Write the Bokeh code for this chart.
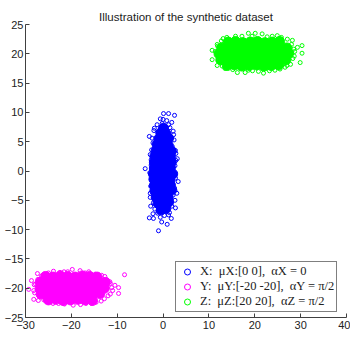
from bokeh.plotting import figure
from bokeh.models import Legend, LegendItem, Title
from bokeh.embed import file_html
from bokeh.resources import INLINE

# ---- data ----
# cluster X (blue), dense core
x_core_x = [-0.4, 0.6, -1.1, 0.2, 1.2, -1.5, -0.1, 1.1, -1.8, -0.5, 0.8, 1.8, -1.9, -0.6, 0.5, 1.6,
            -2.0, -0.8, 0.4, 1.5, -2.1, -1.0, 0.1, 1.2, 2.1, -1.9, -0.6, 0.5, 1.6, -1.9, -0.5, 0.6, 1.8,
            -1.8, -0.5, 0.6, 1.6, -1.5, -0.3, 0.9, 1.8, -1.3, 0.0, 1.1, -0.9, 0.2, 1.2, -0.5, 0.6, 0.1]
x_core_y = [-6.6, -6.4, -5.5, -5.6, -5.3, -4.5, -4.4, -4.6, -3.4, -3.6, -3.5, -3.3, -2.5, -2.3, -2.6, -2.4,
            -1.4, -1.5, -1.3, -1.6, -0.5, -0.4, -0.6, -0.3, -0.5, 0.5, 0.6, 0.4, 0.6, 1.5, 1.4, 1.6, 1.5,
            2.5, 2.6, 2.4, 2.6, 3.5, 3.4, 3.6, 3.4, 4.5, 4.6, 4.4, 5.5, 5.4, 5.6, 6.5, 6.4, 7.3]
# cluster X, scattered points
x_edge_x = [0.1, 1.2, 2.5, -0.6, 0.8, 1.9, -1.3, -0.2, 1.5, 2.2, -2.0, -3.0, -2.2, 2.4, 2.0, -2.5, 2.8,
            3.1, -2.6, -3.9, -2.5, 2.6, 2.4, 3.3, -2.4, -2.7, 2.5, -2.8, 2.2, 2.6, -2.1, 1.9, -1.8, -1.2,
            1.4, 0.3, -0.6, -3.0, -2.1, 1.8, 0.9, -1.0, -0.3,
            -2.7, -2.8, -2.9, -2.6, -2.8, -2.4, -1.9, 2.7, 2.6, 2.7, 2.8, 2.7, 2.3, 1.2, 0.0, 1.2, -1.0,
            -2.2, 3.0]
x_edge_y = [9.8, 9.8, 9.5, 8.9, 8.6, 8.3, 7.9, 8.1, 7.4, 6.8, 6.9, 5.9, 4.8, 5.3, 4.2, 3.6, 3.0,
            2.1, 1.9, 0.4, 0.2, 0.9, -0.6, -1.8, -1.2, -2.6, -2.9, -4.5, -4.1, -5.0, -5.4, -6.0, -6.5, -7.2,
            -7.1, -7.6, -7.9, -8.0, -8.1, -8.1, -9.1, -10.2, -8.7,
            -6.0, -3.8, -0.3, 1.0, 2.8, 5.6, 7.3, -6.3, -3.3, -1.2, 1.8, 3.5, 6.2, 7.9, 8.8, -7.5, -7.0,
            -7.3, -3.8]

# cluster Y (magenta), dense core
y_core_x = [-25.0, -23.4, -21.8, -20.2, -18.6, -17.0, -15.4,
            -26.6, -25.0, -23.4, -21.8, -20.2, -18.6, -17.0, -15.4, -13.8,
            -26.8, -25.6, -24.0, -22.4, -20.8, -19.2, -17.6, -16.0, -14.4, -12.8,
            -26.8, -25.2, -23.6, -22.0, -20.4, -18.8, -17.2, -15.6, -14.0, -12.6,
            -25.6, -24.0, -22.4, -20.8, -19.2, -17.6, -16.0, -14.4]
y_core_y = [-22.0, -21.9, -22.1, -22.0, -21.9, -22.0, -22.1,
            -21.0, -21.1, -20.9, -21.0, -21.1, -20.9, -21.0, -21.1, -20.9,
            -20.0, -20.1, -19.9, -20.0, -20.1, -19.9, -20.0, -20.1, -19.9, -20.0,
            -19.0, -19.1, -18.9, -19.0, -19.1, -18.9, -19.0, -19.1, -18.9, -19.0,
            -18.0, -18.1, -17.9, -18.0, -18.1, -17.9, -18.0, -18.1]
# cluster Y, scattered points
y_edge_x = [-28.7, -29.3, -28.2, -27.2, -18.0, -27.4, -23.9, -19.8, -11.5, -8.4, -9.7, -9.7, -16.2, -13.4,
            -12.2, -11.0, -12.0, -13.5, -15.6, -21.5, -24.0, -26.0, -28.0, -27.8, -26.5, -21.6, -18.1, -10.5,
            -25.0, -22.5, -20.8, -17.0, -14.8, -12.7, -11.6, -11.2, -11.5, -12.8, -14.6, -16.8, -19.6,
            -22.8, -25.2, -27.0, -28.2, -28.1, -27.3, -26.0]
y_edge_y = [-18.7, -20.2, -21.9, -22.1, -22.8, -17.5, -17.1, -16.8, -19.2, -17.7, -19.9, -20.9, -17.2, -17.8,
            -18.6, -20.4, -21.3, -22.2, -22.6, -22.7, -22.6, -22.0, -20.8, -19.3, -17.9, -17.2, -17.0, -19.5,
            -17.4, -17.3, -17.2, -17.4, -17.6, -18.0, -18.9, -19.9, -21.0, -21.8, -22.4, -22.6, -22.9,
            -22.6, -22.3, -21.4, -20.4, -19.4, -18.5, -17.6]

# cluster Z (green), dense core
z_core_x = [14.0, 15.6, 17.2, 18.8, 20.4, 22.0, 23.6, 25.2,
            12.6, 14.2, 15.8, 17.4, 19.0, 20.6, 22.2, 23.8, 25.4, 26.8,
            12.2, 13.8, 15.4, 17.0, 18.6, 20.2, 21.8, 23.4, 25.0, 26.6, 27.4,
            12.8, 14.4, 16.0, 17.6, 19.2, 20.8, 22.4, 24.0, 25.6, 27.0,
            14.2, 15.8, 17.4, 19.0, 20.6, 22.2, 23.8, 25.4]
z_core_y = [18.0, 18.1, 17.9, 18.0, 18.1, 17.9, 18.0, 18.1,
            19.0, 19.1, 18.9, 19.0, 19.1, 18.9, 19.0, 19.1, 18.9, 19.0,
            20.0, 20.1, 19.9, 20.0, 20.1, 19.9, 20.0, 20.1, 19.9, 20.0, 20.1,
            21.0, 21.1, 20.9, 21.0, 21.1, 20.9, 21.0, 21.1, 20.9, 21.0,
            22.0, 22.1, 21.9, 22.0, 22.1, 21.9, 22.0, 22.1]
# cluster Z, scattered points
z_edge_x = [18.6, 20.1, 21.6, 10.7, 10.7, 16.2, 17.9, 21.9, 26.6, 29.3, 30.3, 30.3, 29.9, 28.2, 25.8, 23.8,
            15.8, 13.1, 11.8, 11.8, 13.5, 28.6, 27.8, 24.4, 19.5, 12.0, 28.5,
            13.9, 17.2, 19.4, 22.7, 24.9, 27.1, 28.0, 28.7, 28.3, 27.0, 25.5, 23.2, 20.8, 18.6, 15.2,
            12.9, 12.0, 11.4, 11.9, 12.7]
z_edge_y = [23.5, 23.5, 23.4, 20.6, 19.0, 16.8, 16.8, 16.7, 17.7, 21.1, 21.4, 20.1, 18.5, 22.3, 22.8, 23.0,
            23.0, 22.6, 21.6, 18.0, 17.5, 19.6, 18.2, 17.2, 17.1, 20.0, 20.8,
            22.8, 23.0, 23.0, 22.9, 23.1, 22.5, 21.6, 20.4, 19.2, 18.0, 17.4, 17.1, 17.0, 17.2, 17.3,
            17.9, 18.8, 20.4, 21.3, 22.2]

title_text = "Illustration of the synthetic dataset"
legend_labels = ["X:  μX:[0 0],  αX = 0",
                 "Y:  μY:[-20 -20],  αY = π/2",
                 "Z:  μZ:[20 20],  αZ = π/2"]
colors = ["#0000ff", "#ff00ff", "#00ff00"]
x_ticks = [-30, -20, -10, 0, 10, 20, 30, 40]
y_ticks = [-25, -20, -15, -10, -5, 0, 5, 10, 15, 20, 25]

# ---- figure ----
p = figure(width=350, height=338, x_range=(-30, 40), y_range=(-25, 25),
           output_backend="svg", toolbar_location=None,
           min_border_left=25, min_border_right=4, min_border_top=24, min_border_bottom=21)
p.title = Title(text=title_text, align="center", vertical_align="top",
                text_font="Liberation Sans", text_font_size="11.5px", text_font_style="normal",
                text_color="#222222", standoff=0)
p.grid.visible = False
p.outline_line_color = None
p.background_fill_color = "white"

for ax in (p.xaxis[0], p.yaxis[0]):
    ax.major_tick_in = 4
    ax.major_tick_out = 0
    ax.minor_tick_line_color = None
    ax.axis_line_color = "#404040"
    ax.major_tick_line_color = "#404040"
    ax.major_label_text_font = "Liberation Sans"
    ax.major_label_text_font_size = "11px"
    ax.major_label_text_color = "#222222"
p.xaxis.ticker = x_ticks
p.yaxis.ticker = y_ticks
p.xaxis.major_label_standoff = 3
p.yaxis.major_label_standoff = 2

sets = [(x_core_x, x_core_y, x_edge_x, x_edge_y),
        (y_core_x, y_core_y, y_edge_x, y_edge_y),
        (z_core_x, z_core_y, z_edge_x, z_edge_y)]
items = []
for (cx, cy, ex, ey), col, lab in zip(sets, colors, legend_labels):
    p.scatter(cx, cy, marker="circle", size=10, fill_color=col, line_color=col, line_width=1)
    r = p.scatter(ex, ey, marker="circle", size=4, fill_color=None, line_color=col, line_width=1)
    items.append(LegendItem(label=lab, renderers=[r]))

legend = Legend(items=items, location=(150, 5), border_line_color="black", border_line_width=1,
                background_fill_color="white", background_fill_alpha=1.0,
                padding=2, spacing=0, margin=0, glyph_width=18, glyph_height=15,
                label_height=15, label_standoff=4,
                label_text_font="Liberation Serif", label_text_font_size="12.5px",
                label_text_color="#222222")
p.add_layout(legend, "center")

open("out.html", "w").write(file_html(p, INLINE))
